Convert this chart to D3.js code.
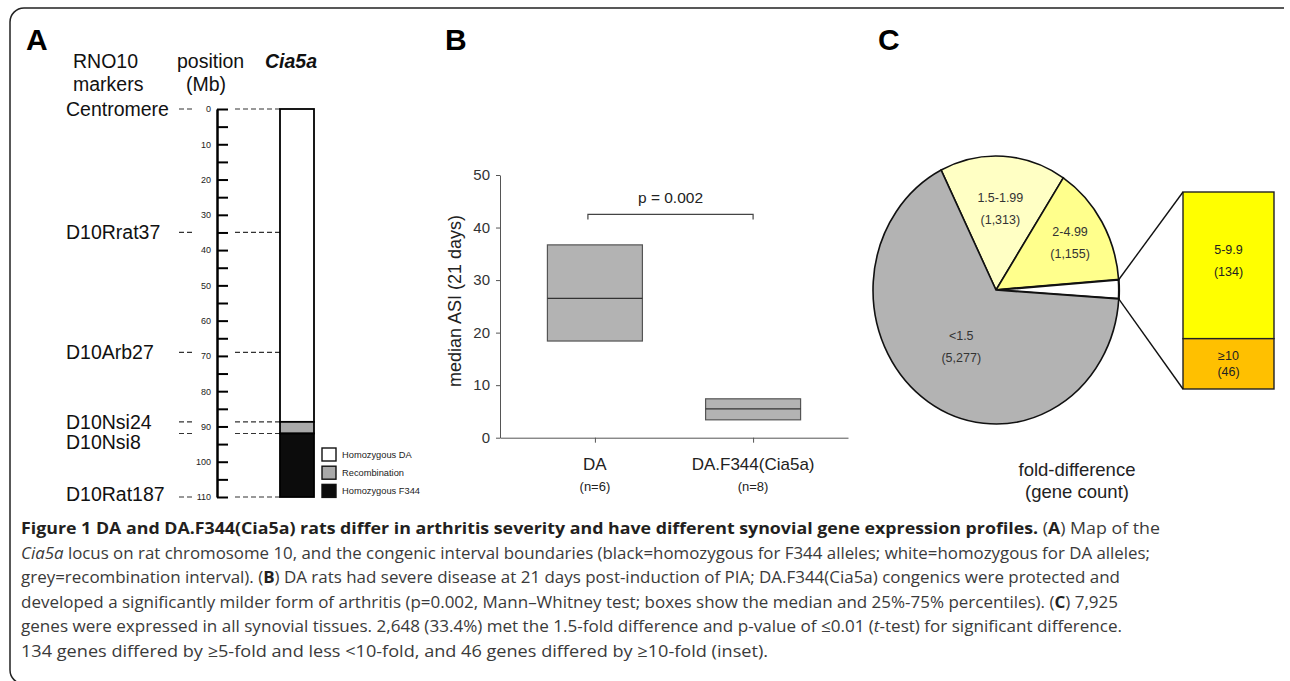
<!DOCTYPE html>
<html>
<head>
<meta charset='utf-8'>
<script src='https://d3js.org/d3.v7.min.js'></script>
<style>
  body { margin: 0; background: #fff; }
  svg text { font-family: "Liberation Sans", Arial, Helvetica, sans-serif; }
  .cap { font-family: "Open Sans", "DejaVu Sans", sans-serif; font-size: 16.8px; fill: #3a3a3a; }
  .cap .b { font-weight: 700; fill: #231f20; }
  .cap .i { font-style: italic; }
</style>
</head>
<body>
<div id='fig'></div>
<script>
// ---- panel A: Cia5a congenic map ----
const markerNames = ['Centromere', 'D10Rrat37', 'D10Arb27', 'D10Nsi24', 'D10Nsi8', 'D10Rat187'];
const markerMb = [0, 35, 69, 88.7, 92, 110];
const segStart = [0, 88.7, 92];
const segEnd = [88.7, 92, 110];
const segType = ['Homozygous DA', 'Recombination', 'Homozygous F344'];

// ---- panel B: ASI box summary ----
const groups = ['DA', 'DA.F344(Cia5a)'];
const groupN = ['(n=6)', '(n=8)'];
const q1 = [18.4, 3.4];
const median = [26.5, 5.5];
const q3 = [36.7, 7.4];
const pText = 'p = 0.002';
const pBracket = 42.5;

// ---- panel C: fold-difference pie ----
const foldCats = ['1.5-1.99', '2-4.99', '\u22655', '<1.5'];
const foldCounts = [1313, 1155, 180, 5277];
const insetCats = ['5-9.9', '\u226510'];
const insetCounts = [134, 46];

const W = 1290, H = 681;
const svg = d3.select('#fig').append('svg').attr('width', W).attr('height', H);

// frame
svg.append('path')
    .attr('d', 'M1284,8 H24 A14,14 0 0 0 10,22 V670 A14,14 0 0 0 24,684 H1284')
    .attr('fill', 'none').attr('stroke', '#222').attr('stroke-width', 1.5);

function panelLetter(x, t) {
    svg.append('text').attr('x', x).attr('y', 50).text(t)
        .attr('font-size', 30).attr('font-weight', 700).attr('fill', '#000');
}
panelLetter(26, 'A');
panelLetter(445, 'B');
panelLetter(878, 'C');

// ===== A =====
const gA = svg.append('g');
const yA = d3.scaleLinear().domain([0, 110]).range([109, 497]);
const hdr = [['RNO10', 73, 68], ['markers', 73, 91], ['position', 177, 68], ['(Mb)', 186, 91]];
hdr.forEach(h => gA.append('text').attr('x', h[1]).attr('y', h[2]).text(h[0])
    .attr('font-size', 19.5).attr('fill', '#111'));
gA.append('text').attr('x', 265).attr('y', 68).text('Cia5a')
    .attr('font-size', 19.5).attr('font-weight', 700).attr('font-style', 'italic').attr('fill', '#111');

const axA = gA.append('g').attr('transform', 'translate(217,0)')
    .call(d3.axisRight(yA).tickValues(d3.range(0, 111, 5)).tickSize(11).tickSizeOuter(0).tickFormat(''));
axA.select('.domain').attr('stroke', '#000').attr('stroke-width', 2.5);
axA.selectAll('.tick line').attr('stroke', '#000').attr('stroke-width', 2);

const axAL = gA.append('g').attr('transform', 'translate(217,0)')
    .call(d3.axisLeft(yA).tickValues(d3.range(0, 111, 10)).tickSize(0).tickPadding(6));
axAL.select('.domain').remove();
axAL.selectAll('text').attr('font-size', 9).attr('fill', '#222')
    .attr('font-family', '"Liberation Sans", Arial, sans-serif');

const labelShift = { 'D10Nsi24': 0, 'D10Nsi8': 8, 'D10Rat187': -3 };
markerNames.forEach((m, i) => {
    const y = yA(markerMb[i]);
    gA.append('line').attr('x1', 179).attr('x2', 194).attr('y1', y).attr('y2', y)
        .attr('stroke', '#333').attr('stroke-width', 1.2).attr('stroke-dasharray', '5,3');
    gA.append('line').attr('x1', 235).attr('x2', 280).attr('y1', y).attr('y2', y)
        .attr('stroke', '#333').attr('stroke-width', 1.2).attr('stroke-dasharray', '5,3');
    gA.append('text').attr('x', 66).attr('y', y + (labelShift[m] || 0)).attr('dy', '0.36em')
        .text(m).attr('font-size', 19.5).attr('fill', '#111');
});

const segColor = d3.scaleOrdinal().domain(segType).range(['#ffffff', '#a9a9a9', '#0c0c0c']);
gA.selectAll('rect.seg').data(segType).join('rect').attr('class', 'seg')
    .attr('x', 280).attr('width', 34)
    .attr('y', (d, i) => yA(segStart[i])).attr('height', (d, i) => yA(segEnd[i]) - yA(segStart[i]))
    .attr('fill', d => segColor(d)).attr('stroke', '#000').attr('stroke-width', 1.8);

const lg = gA.append('g').attr('transform', 'translate(322,448)');
segType.forEach((t, i) => {
    const yy = i * 18.2;
    lg.append('rect').attr('x', 0).attr('y', yy).attr('width', 14).attr('height', 13)
        .attr('fill', segColor(t)).attr('stroke', '#111').attr('stroke-width', 1.4);
    lg.append('text').attr('x', 20).attr('y', yy + 6.5).attr('dy', '0.36em').text(t)
        .attr('font-size', 9.3).attr('fill', '#222');
});

// ===== B =====
const gB = svg.append('g');
const yB = d3.scaleLinear().domain([0, 50]).range([437.7, 175]);
const xB = d3.scalePoint().domain(groups).range([500, 848]).padding(0.6);
const boxW = 95;

const axBY = gB.append('g').attr('transform', 'translate(500,0)')
    .call(d3.axisLeft(yB).ticks(5).tickSize(4).tickSizeOuter(0).tickPadding(6));
axBY.selectAll('text').attr('font-size', 15).attr('fill', '#333')
    .attr('font-family', '"Liberation Sans", Arial, sans-serif');
axBY.selectAll('line, path').attr('stroke', '#555');

const axBX = gB.append('g').attr('transform', 'translate(0,437.7)')
    .call(d3.axisBottom(xB).tickSize(5).tickSizeOuter(0).tickFormat(''));
axBX.selectAll('line, path').attr('stroke', '#555');

groups.forEach((g, i) => {
    const cx = xB(g);
    gB.append('rect').attr('x', cx - boxW / 2).attr('width', boxW)
        .attr('y', yB(q3[i])).attr('height', yB(q1[i]) - yB(q3[i]))
        .attr('fill', '#b3b3b3').attr('stroke', '#555').attr('stroke-width', 1.2);
    gB.append('line').attr('x1', cx - boxW / 2).attr('x2', cx + boxW / 2)
        .attr('y1', yB(median[i])).attr('y2', yB(median[i]))
        .attr('stroke', '#333').attr('stroke-width', 1.2);
    gB.append('text').attr('x', cx).attr('y', 470).attr('text-anchor', 'middle').text(g)
        .attr('font-size', 17).attr('fill', '#222');
    gB.append('text').attr('x', cx).attr('y', 491).attr('text-anchor', 'middle').text(groupN[i])
        .attr('font-size', 13).attr('fill', '#222');
});

const bx0 = xB(groups[0]) - 7, bx1 = xB(groups[1]), by = yB(pBracket);
gB.append('path').attr('d', `M${bx0},${by + 5} V${by} H${bx1} V${by + 5}`)
    .attr('fill', 'none').attr('stroke', '#444').attr('stroke-width', 1.2);
gB.append('text').attr('x', (bx0 + bx1) / 2).attr('y', by - 11).attr('text-anchor', 'middle')
    .text(pText).attr('font-size', 15.5).attr('fill', '#222');

gB.append('text').attr('transform', 'translate(461,301) rotate(-90)').attr('text-anchor', 'middle')
    .text('median ASI (21 days)').attr('font-size', 18).attr('fill', '#222');

// ===== C =====
const gC = svg.append('g');
const cx = 996, cy = 290, rx = 123, ry = 134;
const a0 = -26.5 * Math.PI / 180;
const pie = d3.pie().sort(null).startAngle(a0).endAngle(a0 + 2 * Math.PI);
const arcs = pie(foldCounts);
const arc = d3.arc().innerRadius(0).outerRadius(1);
const pieColor = d3.scaleOrdinal().domain(foldCats).range(['#ffffc4', '#ffff8c', '#ffffff', '#b3b3b3']);

const pg = gC.append('g').attr('transform', `translate(${cx},${cy}) scale(${rx},${ry})`);
pg.selectAll('path').data(arcs).join('path')
    .attr('d', arc)
    .attr('fill', (d, i) => pieColor(foldCats[i]))
    .attr('stroke', '#111').attr('stroke-width', (d, i) => i === 2 ? 2.2 : 1.6)
    .attr('vector-effect', 'non-scaling-stroke');

const labelR = { '1.5-1.99': 0.61, '2-4.99': 0.70, '<1.5': 0.51 };
arcs.forEach((d, i) => {
    const c = foldCats[i];
    if (!(c in labelR)) return;
    const m = (d.startAngle + d.endAngle) / 2;
    const lx = cx + rx * labelR[c] * Math.sin(m), ly = cy - ry * labelR[c] * Math.cos(m);
    gC.append('text').attr('x', lx).attr('y', ly - 11).attr('dy', '0.36em').attr('text-anchor', 'middle')
        .text(c).attr('font-size', 12.5).attr('fill', '#333');
    gC.append('text').attr('x', lx).attr('y', ly + 11).attr('dy', '0.36em').attr('text-anchor', 'middle')
        .text('(' + d3.format(',')(foldCounts[i]) + ')').attr('font-size', 12.5).attr('fill', '#333');
});

// inset bar
const yI = d3.scaleLinear().domain([0, d3.sum(insetCounts)]).range([192, 389]);
const insetX = 1183, insetW = 91;
const insetColor = ['#ffff00', '#ffc000'];
let acc = 0;
insetCats.forEach((c, i) => {
    const y0 = yI(acc), y1 = yI(acc + insetCounts[i]);
    acc += insetCounts[i];
    gC.append('rect').attr('x', insetX).attr('y', y0).attr('width', insetW).attr('height', y1 - y0)
        .attr('fill', insetColor[i]).attr('stroke', '#222').attr('stroke-width', 1.4);
    const my = (y0 + y1) / 2, gap = i === 0 ? 11 : 8;
    gC.append('text').attr('x', insetX + insetW / 2).attr('y', my - gap - (i === 0 ? 5 : 0)).attr('dy', '0.36em')
        .attr('text-anchor', 'middle').text(c).attr('font-size', 12.5).attr('fill', '#222');
    gC.append('text').attr('x', insetX + insetW / 2).attr('y', my + gap - (i === 0 ? 5 : 0)).attr('dy', '0.36em')
        .attr('text-anchor', 'middle').text('(' + insetCounts[i] + ')').attr('font-size', 12.5).attr('fill', '#222');
});

// connectors from the small slice to the inset
const sl = arcs[2];
const pt = a => [cx + rx * Math.sin(a), cy - ry * Math.cos(a)];
const p0 = pt(sl.startAngle), p1 = pt(sl.endAngle);
gC.append('line').attr('x1', p0[0]).attr('y1', p0[1]).attr('x2', insetX).attr('y2', yI(0))
    .attr('stroke', '#111').attr('stroke-width', 1.4);
gC.append('line').attr('x1', p1[0]).attr('y1', p1[1]).attr('x2', insetX).attr('y2', yI(d3.sum(insetCounts)))
    .attr('stroke', '#111').attr('stroke-width', 1.4);

gC.append('text').attr('x', 1077).attr('y', 476).attr('text-anchor', 'middle')
    .text('fold-difference').attr('font-size', 18.5).attr('fill', '#222');
gC.append('text').attr('x', 1077).attr('y', 498).attr('text-anchor', 'middle')
    .text('(gene count)').attr('font-size', 18.5).attr('fill', '#222');

// ===== caption =====
const capLines = [
    [['Figure 1 DA and DA.F344(Cia5a) rats differ in arthritis severity and have different synovial gene expression profiles.', 'b'], [' (', ''], ['A', 'b'], [') Map of the', '']],
    [['Cia5a', 'i'], [' locus on rat chromosome 10, and the congenic interval boundaries (black=homozygous for F344 alleles; white=homozygous for DA alleles;', '']],
    [['grey=recombination interval). (', ''], ['B', 'b'], [') DA rats had severe disease at 21 days post-induction of PIA; DA.F344(Cia5a) congenics were protected and', '']],
    [['developed a significantly milder form of arthritis (p=0.002, Mann\u2013Whitney test; boxes show the median and 25%-75% percentiles). (', ''], ['C', 'b'], [') 7,925', '']],
    [['genes were expressed in all synovial tissues. 2,648 (33.4%) met the 1.5-fold difference and p-value of \u22640.01 (', ''], ['t', 'i'], ['-test) for significant difference.', '']],
    [['134 genes differed by \u22655-fold and less <10-fold, and 46 genes differed by \u226510-fold (inset).', '']]
];
const capEnd = [1160, 1150, 1120, 1118, 1122, 768];
capLines.forEach((runs, i) => {
    const t = svg.append('text').attr('class', 'cap').attr('x', 21).attr('y', 534 + i * 24.5)
        .attr('textLength', capEnd[i] - 21).attr('lengthAdjust', 'spacingAndGlyphs');
    runs.forEach(r => t.append('tspan').attr('class', r[1]).text(r[0]));
});
</script>
</body>
</html>
